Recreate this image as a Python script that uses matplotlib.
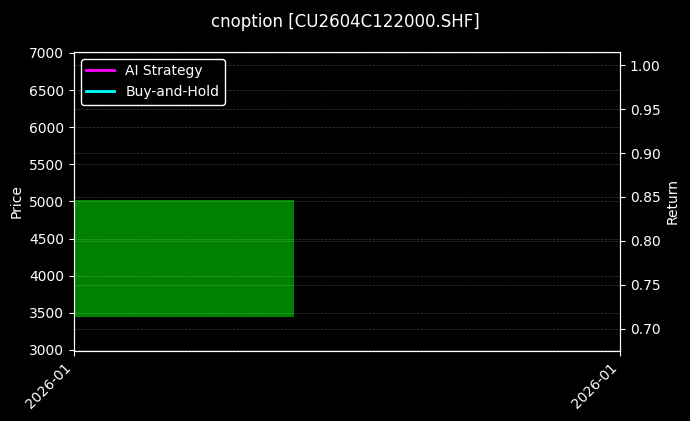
import matplotlib
matplotlib.use("Agg")
import matplotlib.pyplot as plt
import matplotlib.dates as mdates
import numpy as np
import pandas as pd

plt.style.use("dark_background")

# data
dates = pd.to_datetime(["2026-01-05", "2026-01-06"])
candle_open = [3440.0]
candle_close = [5020.0]
strategy_return = [1.00]
buyhold_return = [0.69]
price_ticks = [3000, 3500, 4000, 4500, 5000, 5500, 6000, 6500, 7000]
return_ticks = [0.70, 0.75, 0.80, 0.85, 0.90, 0.95, 1.00]

fig = plt.figure(figsize=(6.9, 4.21), dpi=100)
ax = fig.add_axes([0.1072, 0.1663, 0.7914, 0.7107])
ax2 = ax.twinx()

x0 = mdates.date2num(dates[0])
for o, c in zip(candle_open, candle_close):
    ax.bar(x0, c - o, bottom=o, width=0.806, color="green", align="center")

ax.set_xlim(mdates.date2num(dates[0]), mdates.date2num(dates[1]))
ax.set_ylim(2985, 7015)
ax.set_yticks(price_ticks)
ax.set_ylabel("Price")
ax.grid(True, linestyle="--", linewidth=0.5, alpha=0.25)

ax2.plot([x0], strategy_return, color="#ff00ff", linewidth=2, label="AI Strategy")
ax2.plot([x0], buyhold_return, color="#00ffff", linewidth=2, label="Buy-and-Hold")
ax2.set_yticks(return_ticks)
ax2.set_ylabel("Return")
ax2.grid(True, linestyle="--", linewidth=0.5, alpha=0.25)

ax.set_xticks([mdates.date2num(dates[0]), mdates.date2num(dates[1])])
ax.xaxis.set_major_formatter(mdates.DateFormatter("%Y-%m"))
for lbl in ax.get_xticklabels():
    lbl.set_rotation(45)
    lbl.set_ha("right")

leg = ax2.legend(loc="upper left", facecolor="black", edgecolor="white", framealpha=1)

fig.suptitle("cnoption [CU2604C122000.SHF]", fontsize=12, y=0.97)
fig.savefig("out.png", dpi=100, facecolor="black")
